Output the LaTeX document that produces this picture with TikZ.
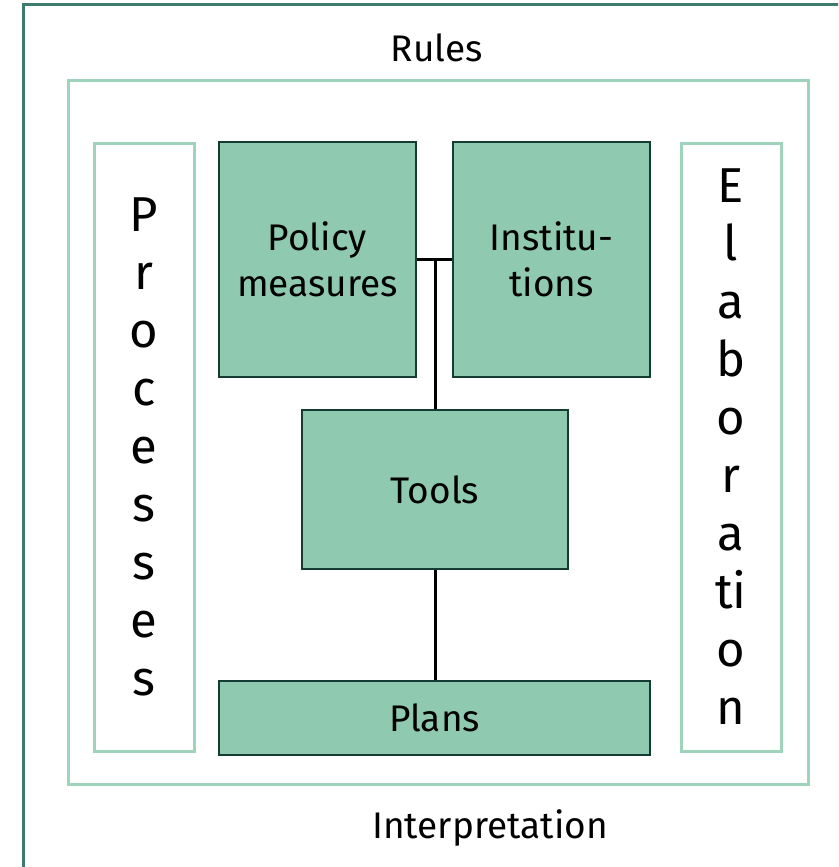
\documentclass[tikz,border=0pt]{standalone}
\usepackage{fontspec}
\setmainfont{Fira Sans}
\definecolor{framegreen}{HTML}{3C7B6D}
\definecolor{palegreen}{HTML}{9FD4BC}
\definecolor{boxgreen}{HTML}{8FCAB0}
\definecolor{boxedge}{HTML}{143C32}

\begin{document}
\begin{tikzpicture}[x=1pt,y=-1pt,
  part/.style={draw=boxedge,line width=2.5pt,fill=boxgreen,inner sep=0pt,
    font=\fontsize{37}{46}\selectfont,align=center},
  side/.style={draw=palegreen,line width=3pt,inner sep=0pt,
    minimum width=100pt,minimum height=608pt,
    font=\fontsize{49}{58}\selectfont,align=center},
  link/.style={draw=black,line width=3pt}]
\useasboundingbox (0,0) rectangle (838,867);
\clip (0,0) rectangle (838,867);
% frames
\draw[framegreen,line width=3pt] (23.5,5) rectangle (900,900);
\draw[palegreen,line width=3pt] (68,80) rectangle (808,784);
\node[font=\fontsize{37}{46}\selectfont] (rules) at (437,48) {Rules};
\node[font=\fontsize{37}{46}\selectfont] (interp) at (490,828) {Interpretation};
% side columns
\node[side] (proc) at (144,447) {P\\r\\o\\c\\e\\s\\s\\e\\s};
\node[side] (elab) at (731,447) {E\\l\\a\\b\\o\\r\\a\\ti\\o\\n};
% parts
\node[part,minimum width=197pt,minimum height=235pt] (policy) at (317.5,259.5) {Policy\\measures};
\node[part,minimum width=197pt,minimum height=235pt] (inst) at (551.5,259.5) {Institu-\\tions};
\node[part,minimum width=266pt,minimum height=159pt] (tools) at (435,489.5) {Tools};
\node[part,minimum width=431pt,minimum height=74pt] (plans) at (434.5,718) {Plans};
% links
\draw[link] (policy.east) -- (inst.west);
\draw[link] (tools.north) -- (tools.north |- policy.east);
\draw[link] (tools.south) -- (plans.north -| tools.south);
\end{tikzpicture}
\end{document}
